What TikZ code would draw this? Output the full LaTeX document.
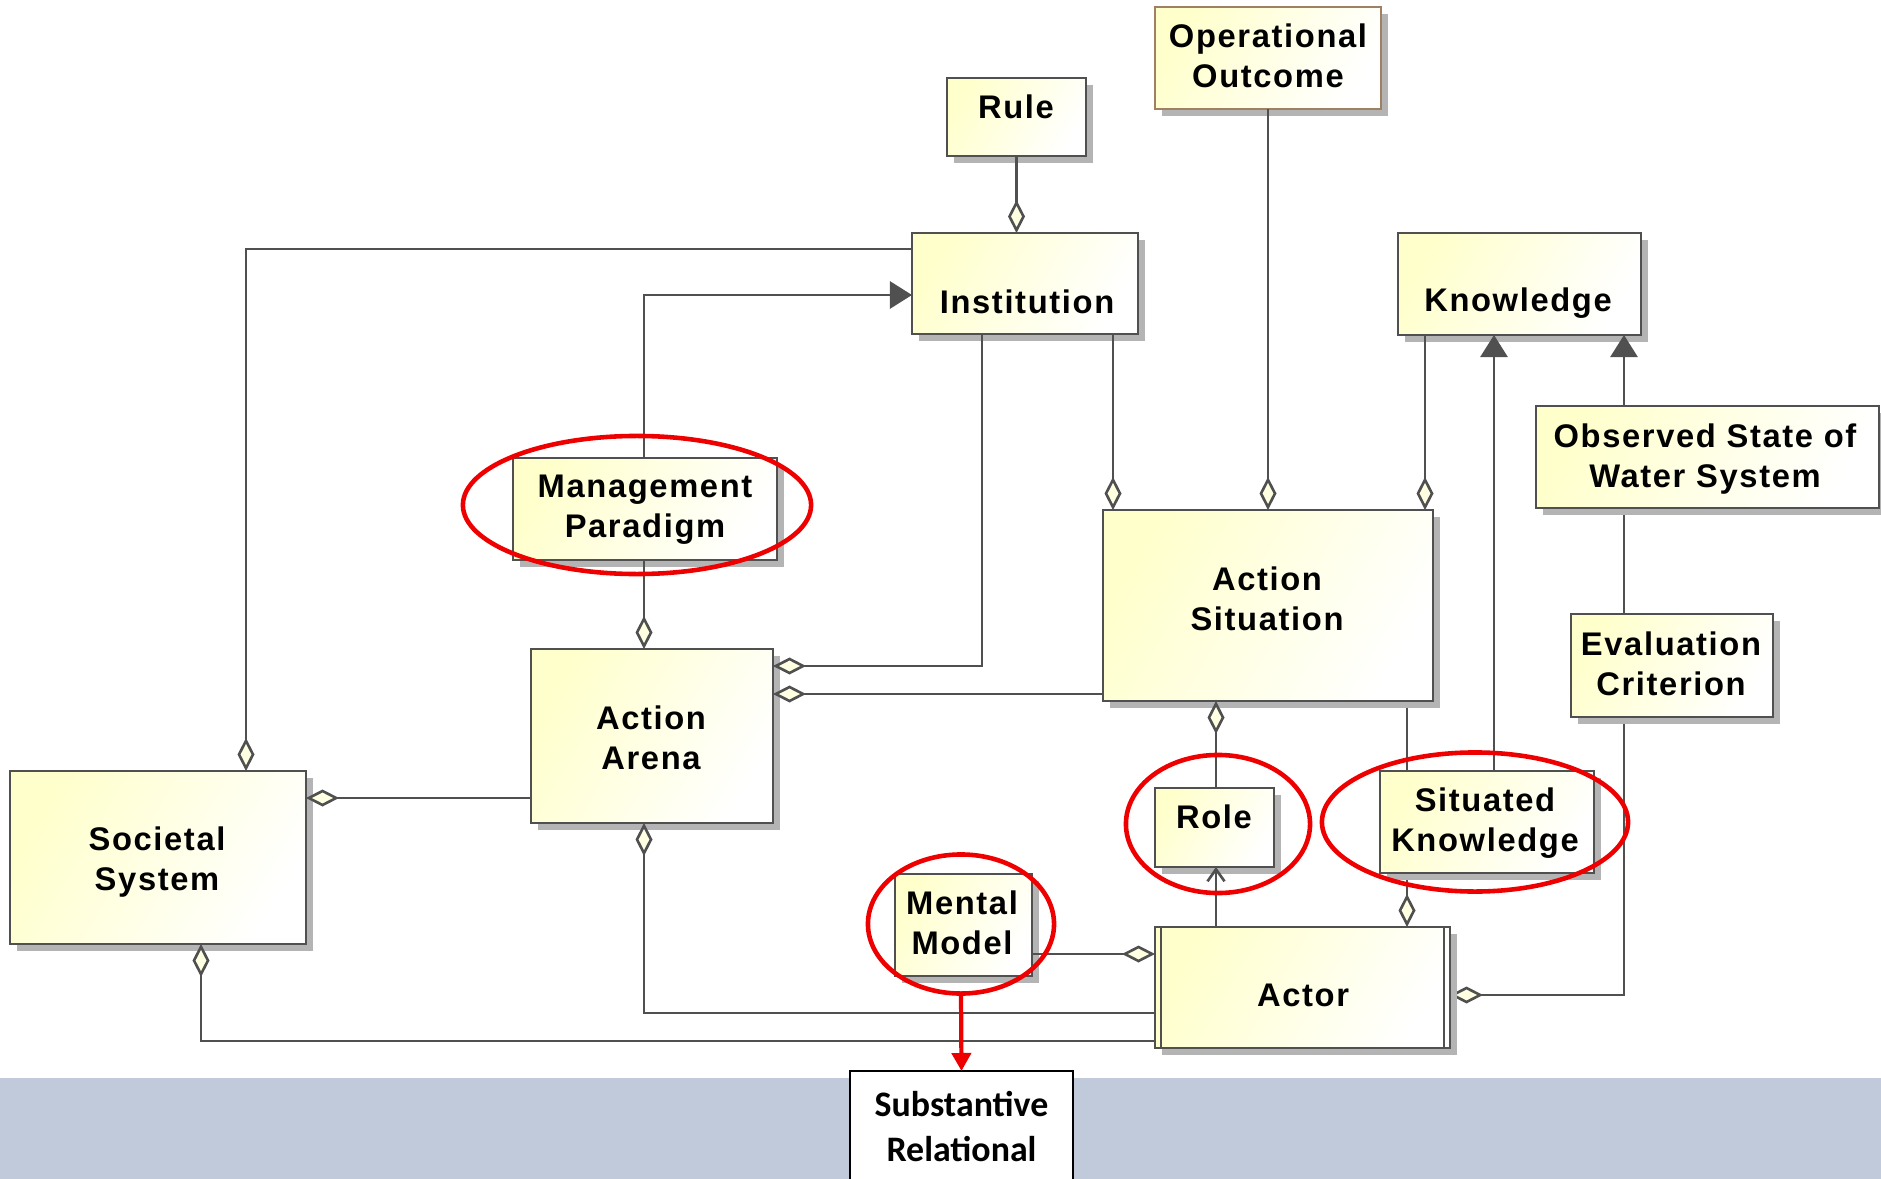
\documentclass[tikz,border=0pt]{standalone}
\usepackage{fontspec}
\newfontfamily\umlfont{Liberation Sans}[LetterSpace=5]
\newfontfamily\notefont{Carlito}
\usetikzlibrary{arrows.meta,shadows,fit,shapes.geometric}

\definecolor{boxline}{RGB}{80,80,80}
\definecolor{boxyel}{RGB}{255,255,204}
\definecolor{shadowgray}{RGB}{180,180,180}
\definecolor{outcomeline}{RGB}{160,128,98}
\definecolor{band}{RGB}{193,202,219}
\definecolor{hilite}{RGB}{238,0,0}
\definecolor{dfill}{RGB}{255,255,226}

\pgfdeclarelayer{behind}
\pgfsetlayers{behind,main}

\tikzset{
  box/.style={draw=boxline, line width=0.8pt, inner sep=0pt, outer sep=0pt,
    left color=boxyel, right color=white, shading angle=60,
    drop shadow={shadow xshift=0.065cm, shadow yshift=-0.065cm,
                 fill=shadowgray, opacity=1}},
  lbl/.style={font=\umlfont\bfseries\fontsize{9.3}{11.4}\selectfont,
    align=center, inner sep=0pt, text depth=0pt},
  conn/.style={draw=boxline, line width=0.75pt},
  agg/.style={conn, -{Diamond[length=0.33cm, width=0.17cm, fill=dfill]}},
  aggs/.style={conn, {Diamond[length=0.33cm, width=0.17cm, fill=dfill]}-},
  gen/.style={conn, -{Triangle[length=0.22cm, width=0.27cm, fill=boxline]}},
  nav/.style={conn, -{Straight Barb[length=0.12cm, width=0.17cm]}},
  ring/.style={draw=hilite, line width=1.3pt, ellipse, inner sep=0pt, outer sep=0pt},
  notebox/.style={draw=black, line width=0.75pt, fill=white, inner sep=0pt, outer sep=0pt},
  notelbl/.style={font=\notefont\bfseries\fontsize{10.2}{12.8}\selectfont,
    align=center, inner sep=0pt, text depth=0pt},
  redarrow/.style={draw=hilite, line width=1.2pt,
    -{Triangle[length=0.18cm, width=0.19cm, fill=hilite]}}
}

\begin{document}
\begin{tikzpicture}[x=0.01cm, y=-0.01cm]
\useasboundingbox (0,0) rectangle (1881,1179);

% classes
\node[box, fit={(947,78) (1086,156)}] (rule) {};
\node[box, draw=outcomeline, fit={(1155,7) (1381,109)}] (outcome) {};
\node[box, fit={(912,233) (1138,334)}] (inst) {};
\node[box, fit={(1398,233) (1641,335)}] (know) {};
\node[box, fit={(1536,406) (1879,508)}] (obs) {};
\node[box, fit={(1571,614) (1773,717)}] (eval) {};
\node[box, fit={(1103,510) (1433,701)}] (as) {};
\node[box, fit={(531,649) (773,823)}] (aa) {};
\node[box, fit={(513,458) (777,560)}] (mp) {};
\node[box, fit={(10,771) (306,944)}] (ss) {};
\node[box, fit={(1155,788) (1274,867)}] (role) {};
\node[box, fit={(1380,771) (1594,873)}] (sk) {};
\node[box, fit={(1155,927) (1450,1048)}] (actor) {};
\node[box, fit={(895,874) (1032,976)}] (mm) {};

% active class: inner side bars
\draw[boxline, line width=0.8pt] ([xshift=0.06cm]actor.north west) -- ([xshift=0.06cm]actor.south west);
\draw[boxline, line width=0.8pt] ([xshift=-0.06cm]actor.north east) -- ([xshift=-0.06cm]actor.south east);

% class names
\node[lbl] (rule-t) at (1016,106.5) {Rule};
\node[lbl] (outcome-t) at (1268,56) {Operational\\Outcome};
\node[lbl] (inst-t) at (1027,301.5) {Institution};
\node[lbl] (know-t) at (1518,300) {Knowledge};
\node[lbl] (obs-t) at (1705,456) {Observed State of\\Water System};
\node[lbl] (eval-t) at (1671,663.5) {Evaluation\\Criterion};
\node[lbl] (as-t) at (1267,599) {Action\\Situation};
\node[lbl] (aa-t) at (651,737.5) {Action\\Arena};
\node[lbl] (mp-t) at (645,506.5) {Management\\Paradigm};
\node[lbl] (ss-t) at (157,858.5) {Societal\\System};
\node[lbl] (role-t) at (1214,816.5) {Role};
\node[lbl] (sk-t) at (1485,819.5) {Situated\\Knowledge};
\node[lbl] (actor-t) at (1303,995) {Actor};
\node[lbl] (mm-t) at (962,922.5) {Mental\\Model};

% associations
\draw[agg] (rule.south) -- (rule.south |- inst.north);
\draw[agg] (outcome.south) -- (outcome.south |- as.north);
\draw[agg] (inst.west |- 0,249) -| (ss.north -| 246,0);
\draw[gen] (mp.north -| 644,0) |- (inst.west |- 0,295);
\draw[agg] (mp.south -| 644,0) -- (aa.north -| 644,0);
\draw[agg] (inst.south -| 982,0) |- (aa.east |- 0,666);
\draw[agg] (inst.south -| 1113,0) -- (as.north -| 1113,0);
\draw[agg] (as.west |- 0,694) -- (aa.east |- 0,694);
\draw[agg] (know.south -| 1425,0) -- (as.north -| 1425,0);
\draw[gen] (sk.north -| 1494,0) -- (know.south -| 1494,0);
\draw[gen] (obs.north -| 1624,0) -- (know.south -| 1624,0);
\draw[aggs] (as.south -| 1216,0) -- (role.north -| 1216,0);
\draw[nav] (actor.north -| 1216,0) -- (role.south -| 1216,0);
\draw[agg] (mm.east |- 0,954) -- (actor.west |- 0,954);
\draw[aggs] (aa.south -| 644,0) |- (actor.west |- 0,1013);
\draw[aggs] (ss.south -| 201,0) |- (actor.west |- 0,1041);
\draw[agg] (aa.west |- 0,798) -- (ss.east |- 0,798);

% background band and the links that run behind class boxes
\begin{pgfonlayer}{behind}
  \fill[white] (0,0) rectangle (1881,1179);
  \fill[band] (0,1078) rectangle (1881,1179);
  \draw[agg] (obs.south -| 1624,0) |- (actor.east |- 0,995);
  \draw[agg] (as.south -| 1407,0) -- (actor.north -| 1407,0);
\end{pgfonlayer}

% highlight rings
\node[ring, minimum width=3.48cm, minimum height=1.38cm] (mp-ring) at (637,505) {};
\node[ring, minimum width=1.84cm, minimum height=1.38cm] (role-ring) at (1218,824) {};
\node[ring, minimum width=3.06cm, minimum height=1.39cm] (sk-ring) at (1475,822) {};
\node[ring, minimum width=1.86cm, minimum height=1.39cm] (mm-ring) at (961,924) {};

% note
\node[notebox, fit={(850,1071) (1073,1195)}] (note) {};
\node[notelbl] (note-t) at (961.5,1126.5) {Substantive\\Relational};
\draw[redarrow] (mm-ring.south) -- (note.north);
\end{tikzpicture}
\end{document}
